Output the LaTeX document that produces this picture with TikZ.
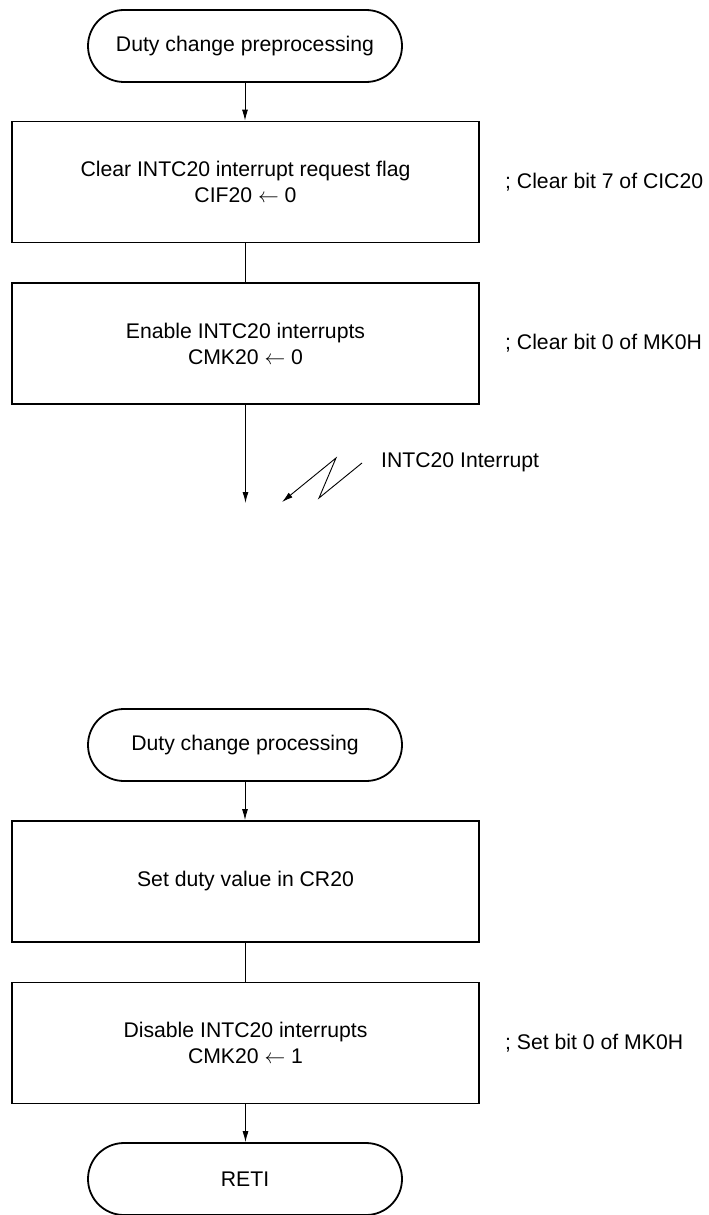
\documentclass[tikz,border=0pt]{standalone}
\usepackage{fontspec}
\setmainfont{Liberation Sans}
\usetikzlibrary{arrows.meta}
\begin{document}
\begin{tikzpicture}[x=1pt,y=-1pt,
  every node/.style={font=\fontsize{21.2}{26}\selectfont},
  term/.style={draw,line width=1.8pt,rounded corners=36pt,minimum width=314pt,minimum height=72pt,inner sep=0pt},
  proc/.style={draw,line width=1.8pt,minimum width=467pt,minimum height=121pt,inner sep=0pt,align=center},
  cmt/.style={anchor=west,inner sep=0pt},
  conn/.style={line width=0.9pt},
  flow/.style={conn,-{Latex[length=11pt,width=6pt]}}]
\useasboundingbox (0,0) rectangle (709,1215);
\node[term] (t1) at (245,46) {Duty change preprocessing};
\node[proc] (b1) at (245.5,182) {Clear INTC20 interrupt request flag\\CIF20 $\leftarrow$ 0};
\node[cmt] (c1) at (505,182) {; Clear bit 7 of CIC20};
\node[proc] (b2) at (245.5,343.5) {Enable INTC20 interrupts\\CMK20 $\leftarrow$ 0};
\node[cmt] (c2) at (505,343.5) {; Clear bit 0 of MK0H};
\coordinate (e1) at (245.5,503);
\coordinate (z1) at (362,463);
\coordinate (z2) at (319,498);
\coordinate (z3) at (336,458);
\coordinate (z4) at (282,502);
\node[cmt] (il) at (381,462) {INTC20 Interrupt};
\node[term] (t2) at (245,745) {Duty change processing};
\node[proc] (b3) at (245.5,881.5) {Set duty value in CR20};
\node[proc] (b4) at (245.5,1043) {Disable INTC20 interrupts\\CMK20 $\leftarrow$ 1};
\node[cmt] (c4) at (505,1043) {; Set bit 0 of MK0H};
\node[term] (t3) at (245,1179) {RETI};
\draw[flow] (t1.south) -- (t1.south |- b1.north);
\draw[conn] (b1.south) -- (b1.south |- b2.north);
\draw[flow] (b2.south) -- (e1);
\draw[conn,-{Latex[length=11pt,width=6pt]}] (z1) -- (z2) -- (z3) -- (z4);
\draw[flow] (t2.south) -- (t2.south |- b3.north);
\draw[conn] (b3.south) -- (b3.south |- b4.north);
\draw[flow] (b4.south) -- (b4.south |- t3.north);
\end{tikzpicture}
\end{document}
